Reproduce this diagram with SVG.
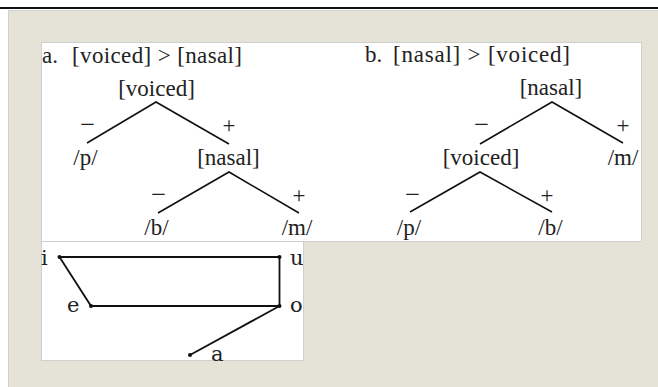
<svg xmlns="http://www.w3.org/2000/svg" width="658" height="387" viewBox="0 0 658 387">
<style>
text{font-family:"Liberation Serif","Times New Roman",serif;font-size:23px;fill:#222}
.c{text-anchor:middle}
.v{font-family:"DejaVu Serif","Liberation Serif",serif;font-size:21px}
.ln{stroke:#111;stroke-width:1.6;fill:none;stroke-linejoin:miter}
.vl{stroke:#111;stroke-width:1.8;fill:none}
.dot{fill:#111}
.panel{fill:#fff;stroke:#cfcfcf;stroke-width:1}
</style>
<rect x="0" y="0" width="658" height="387" fill="#fff"/>
<rect x="0" y="7" width="658" height="2" fill="#111"/>
<rect x="8.5" y="10.5" width="660" height="380" fill="#e5e2d8" stroke="#cfcfcf" stroke-width="1"/>
<rect class="panel" x="41.5" y="42.5" width="600" height="199"/>
<rect class="panel" x="41.5" y="241.5" width="262" height="119"/>
<g id="connectors">
<polyline class="ln" points="87,143 156,102 229,144"/>
<polyline class="ln" points="158,213 229,172 299,213"/>
<polyline class="ln" points="480,144 552,102 623,143"/>
<polyline class="ln" points="410,212 480,172 552,212"/>
<polyline class="vl" points="59.5,257 279.5,257 279.5,306 91,306 59.5,257"/>
<line class="vl" x1="279.5" y1="306" x2="190" y2="355"/>
</g>
<g id="tree-a">
<g id="title-a"><text x="42" y="63">a.</text><text x="72" y="63" textLength="170" lengthAdjust="spacing">[voiced] &gt; [nasal]</text></g>
<g id="a-voiced"><text class="c" x="156.5" y="96">[voiced]</text></g>
<g id="a-minus1"><text x="80" y="132" textLength="15" lengthAdjust="spacingAndGlyphs">−</text></g>
<g id="a-plus1"><text class="c" x="229" y="132.5">+</text></g>
<g id="a-p"><text class="c" x="85.5" y="165">/p/</text></g>
<g id="a-nasal"><text class="c" x="228.5" y="165">[nasal]</text></g>
<g id="a-minus2"><text x="151" y="202" textLength="15" lengthAdjust="spacingAndGlyphs">−</text></g>
<g id="a-plus2"><text class="c" x="299" y="202.5">+</text></g>
<g id="a-b"><text class="c" x="156.5" y="235">/b/</text></g>
<g id="a-m"><text class="c" x="297" y="235">/m/</text></g>
</g>
<g id="tree-b">
<g id="title-b"><text x="365" y="62">b.</text><text x="393" y="62" textLength="177" lengthAdjust="spacing">[nasal] &gt; [voiced]</text></g>
<g id="b-nasal"><text class="c" x="551" y="95">[nasal]</text></g>
<g id="b-minus1"><text x="474" y="132" textLength="15" lengthAdjust="spacingAndGlyphs">−</text></g>
<g id="b-plus1"><text class="c" x="623" y="132.5">+</text></g>
<g id="b-voiced"><text class="c" x="481" y="165">[voiced]</text></g>
<g id="b-m"><text class="c" x="623" y="165">/m/</text></g>
<g id="b-minus2"><text x="405" y="202" textLength="15" lengthAdjust="spacingAndGlyphs">−</text></g>
<g id="b-plus2"><text class="c" x="547" y="202.5">+</text></g>
<g id="b-p"><text class="c" x="409" y="235">/p/</text></g>
<g id="b-b"><text class="c" x="550.5" y="235">/b/</text></g>
</g>
<g id="vowels">
<g id="v-i"><circle class="dot" cx="59.5" cy="257" r="2"/><text class="v" x="41" y="265">i</text></g>
<g id="v-u"><circle class="dot" cx="279.5" cy="257" r="2"/><text class="v" x="290" y="265">u</text></g>
<g id="v-e"><circle class="dot" cx="91" cy="306" r="2"/><text class="v" x="67" y="312">e</text></g>
<g id="v-o"><circle class="dot" cx="279.5" cy="306" r="2"/><text class="v" x="290" y="312">o</text></g>
<g id="v-a"><circle class="dot" cx="190" cy="355" r="2"/><text class="v" x="211" y="361">a</text></g>
</g>
</svg>
